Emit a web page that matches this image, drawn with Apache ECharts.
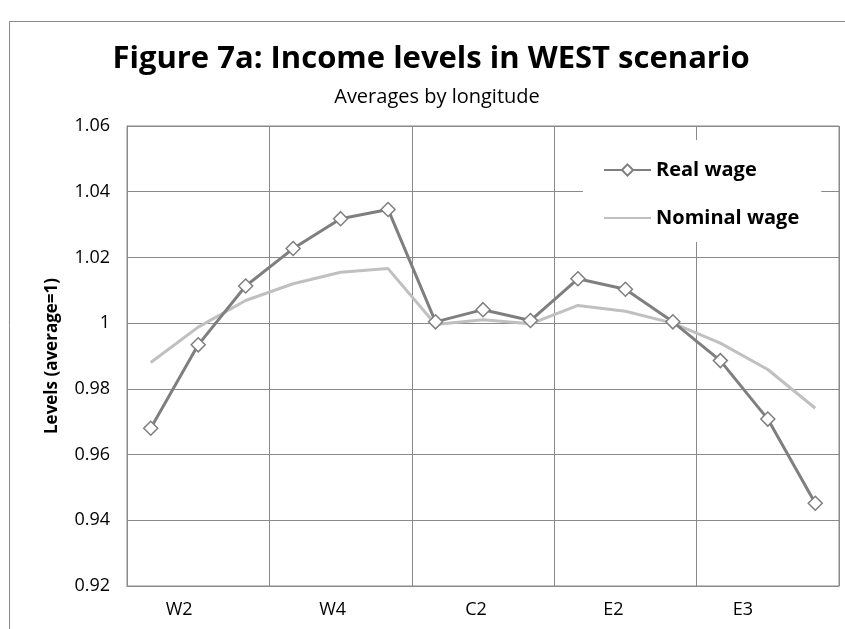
<!doctype html>
<html lang="en">
<head>
    <meta charset="UTF-8">
    <title>Figure 7a</title>
    <script src="https://cdn.jsdelivr.net/npm/echarts@6/dist/echarts.min.js"></script>
    <style>
        html, body { margin: 0; padding: 0; background: #fff; }
        #chart { width: 845px; height: 629px; }
    </style>
</head>
<body>
<div id="chart"></div>
<script>
    // 15 longitude bands, only every third one is labelled
    var categories = ['', 'W2', '', '', 'W4', '', '', 'C2', '', '', 'E2', '', '', 'E3', ''];
    var realWage = [0.968, 0.9934, 1.0113, 1.0227, 1.0318, 1.0346, 1.0004, 1.0041, 1.0008,
        1.0135, 1.0103, 1.0004, 0.9886, 0.9708, 0.9452];
    var nominalWage = [0.988, 0.9988, 1.0069, 1.012, 1.0155, 1.0166, 0.9996, 1.001, 0.9998,
        1.0054, 1.0036, 1.0, 0.9939, 0.9859, 0.9741];
    var yTicks = [0.92, 0.94, 0.96, 0.98, 1, 1.02, 1.04, 1.06];

    var gridColor = '#8a8a8a';
    var font = 'Open Sans';

    // excel places the category labels a little left of centre, more so at the ends
    var labelRich = {
        s1: { padding: [0, 38, 0, 0] },
        s4: { padding: [0, 16, 0, 0] },
        s7: { padding: [0, 14, 0, 0] },
        s10: { padding: [0, 24, 0, 0] },
        s13: { padding: [0, 50, 0, 0] }
    };

    var myChart = echarts.init(document.getElementById('chart'));
    var option = {
        backgroundColor: '#fff',
        animation: false,
        textStyle: { fontFamily: font },
        title: [{
            text: 'Figure 7a: Income levels in WEST scenario',
            left: 426, top: 39, textAlign: 'center',
            textStyle: { fontFamily: font, fontSize: 31, fontWeight: 'bold', color: '#000' }
        }, {
            text: 'Averages by longitude',
            left: 432, top: 82, textAlign: 'center',
            textStyle: { fontFamily: font, fontSize: 20, fontWeight: 'normal', color: '#000' }
        }],
        graphic: [{
            type: 'rect',
            shape: { x: 9.5, y: 21.5, width: 900, height: 700 },
            style: { fill: 'none', stroke: gridColor, lineWidth: 1 },
            silent: true
        }],
        grid: {
            left: 127, right: 6, top: 126, bottom: 43,
            show: true, borderColor: gridColor, borderWidth: 1
        },
        legend: {
            orient: 'vertical',
            left: 583, top: 140,
            padding: [16, 22, 10, 20],
            backgroundColor: '#fff',
            itemWidth: 47, itemHeight: 14, itemGap: 20,
            textStyle: { fontFamily: font, fontSize: 20, fontWeight: 'bold', color: '#000', lineHeight: 28 },
            data: ['Real wage', { name: 'Nominal wage', itemStyle: { opacity: 0 } }]
        },
        xAxis: {
            type: 'category',
            data: categories,
            boundaryGap: true,
            axisLine: { lineStyle: { color: gridColor } },
            axisTick: { show: false },
            axisLabel: {
                interval: 0, margin: 15, fontSize: 18, color: '#000', fontFamily: font,
                formatter: function (value, index) {
                    return value ? '{s' + index + '|' + value + '}' : '';
                },
                rich: labelRich
            },
            splitLine: {
                show: true,
                interval: function (index) { return index % 3 === 0; },
                lineStyle: { color: gridColor }
            }
        },
        yAxis: {
            type: 'value',
            min: 0.92, max: 1.06, interval: 0.02,
            name: 'Levels (average=1)',
            nameLocation: 'middle',
            nameRotate: 90,
            nameGap: 66,
            nameMoveOverlap: false,
            nameTextStyle: { fontFamily: font, fontSize: 17, fontWeight: 'bold', color: '#000' },
            axisLine: { show: true, lineStyle: { color: gridColor } },
            axisTick: { show: false },
            axisLabel: {
                margin: 17, fontSize: 18, color: '#000', fontFamily: font,
                formatter: function (v) {
                    for (var i = 0; i < yTicks.length; i++) {
                        if (Math.abs(yTicks[i] - v) < 1e-9) return String(yTicks[i]);
                    }
                    return '';
                }
            },
            splitLine: { lineStyle: { color: gridColor } }
        },
        series: [{
            name: 'Nominal wage',
            type: 'line',
            data: nominalWage,
            symbol: 'none',
            z: 2,
            lineStyle: { color: '#c0c0c0', width: 3 },
            itemStyle: { color: '#c0c0c0' }
        }, {
            name: 'Real wage',
            type: 'line',
            data: realWage,
            symbol: 'diamond',
            symbolSize: 14,
            z: 3,
            lineStyle: { color: '#7f7f7f', width: 3 },
            itemStyle: { color: '#fff', borderColor: '#7f7f7f', borderWidth: 1.5 }
        }]
    };
    myChart.setOption(option);
</script>
</body>
</html>
